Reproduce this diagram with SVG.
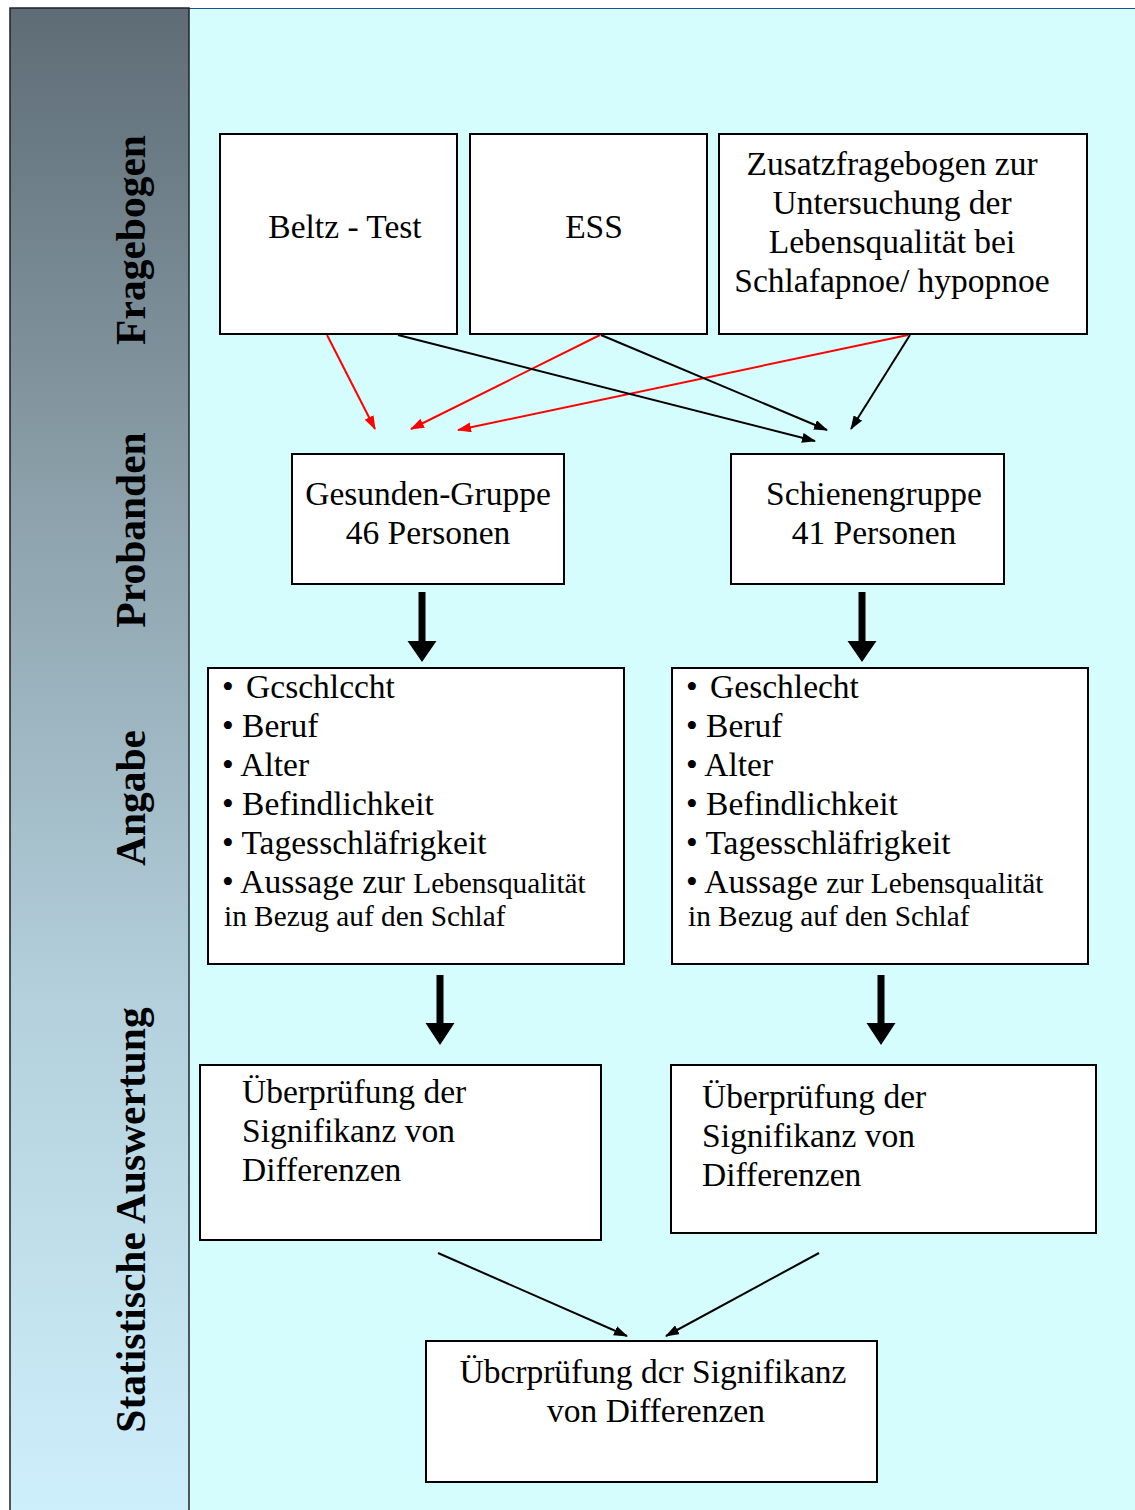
<svg xmlns="http://www.w3.org/2000/svg" width="1135" height="1510" viewBox="0 0 1135 1510">
<defs>
<linearGradient id="side" x1="0" y1="0" x2="0" y2="1">
<stop offset="0" stop-color="#5e6c75"/>
<stop offset="0.33" stop-color="#8ca1ab"/>
<stop offset="0.66" stop-color="#b3d0dc"/>
<stop offset="1" stop-color="#cdeffb"/>
</linearGradient>
<marker id="ah" markerWidth="14" markerHeight="10" refX="13" refY="5" orient="auto" markerUnits="userSpaceOnUse">
<path d="M0,0 L14,5 L0,10 Z" fill="#000"/>
</marker>
<marker id="ahr" markerWidth="14" markerHeight="10" refX="13" refY="5" orient="auto" markerUnits="userSpaceOnUse">
<path d="M0,0 L14,5 L0,10 Z" fill="#ff0000"/>
</marker>
</defs>
<style>
.box{fill:#fff;stroke:#000;stroke-width:2}
.t{font-family:"Liberation Serif","Times New Roman",serif;font-size:33.5px;fill:#000}
.s{font-size:29.3px}
.side{font-family:"Liberation Serif","Times New Roman",serif;font-size:41.5px;font-weight:bold;fill:#000;text-anchor:middle}
.c{text-anchor:middle}
.bl{stroke:#000;stroke-width:2;fill:none}
.rd{stroke:#ff0000;stroke-width:2;fill:none}
</style>
<rect x="0" y="0" width="1135" height="1510" fill="#fff"/>
<rect x="189" y="8" width="946" height="1502" fill="#d5fdfd"/>
<line x1="189" y1="8.5" x2="1135" y2="8.5" stroke="#1f4e8c" stroke-width="1"/>
<g id="sidebar">
<rect x="10" y="8" width="179" height="1504" fill="url(#side)" stroke="#222" stroke-width="1.5"/>
<text class="side" transform="translate(145,240) rotate(-90)">Fragebogen</text>
<text class="side" transform="translate(145,530) rotate(-90)">Probanden</text>
<text class="side" transform="translate(145,798) rotate(-90)">Angabe</text>
<text class="side" transform="translate(145,1220) rotate(-90)">Statistische Auswertung</text>
</g>
<g id="connectors">
<line class="rd" x1="327" y1="335" x2="375" y2="429" marker-end="url(#ahr)"/>
<line class="rd" x1="600" y1="335" x2="411" y2="429" marker-end="url(#ahr)"/>
<line class="rd" x1="908" y1="335" x2="458" y2="430" marker-end="url(#ahr)"/>
<line class="bl" x1="398" y1="335" x2="815" y2="441" marker-end="url(#ah)"/>
<line class="bl" x1="601" y1="335" x2="827" y2="430" marker-end="url(#ah)"/>
<line class="bl" x1="910" y1="335" x2="851" y2="429" marker-end="url(#ah)"/>
<path d="M418.5,592 h7 v49 h11 l-14.5,21 l-14.5,-21 h11 Z" fill="#000"/>
<path d="M858.5,592 h7 v49 h11 l-14.5,21 l-14.5,-21 h11 Z" fill="#000"/>
<path d="M436.5,975 h7 v48 h11 l-14.5,22 l-14.5,-22 h11 Z" fill="#000"/>
<path d="M877.5,975 h7 v48 h11 l-14.5,22 l-14.5,-22 h11 Z" fill="#000"/>
<line class="bl" x1="438" y1="1253" x2="627" y2="1336" marker-end="url(#ah)"/>
<line class="bl" x1="819" y1="1253" x2="666" y2="1336" marker-end="url(#ah)"/>
</g>
<g id="beltz">
<rect class="box" x="220" y="134" width="237" height="200"/>
<text class="t c" x="345" y="238">Beltz - Test</text>
</g>
<g id="ess">
<rect class="box" x="470" y="134" width="237" height="200"/>
<text class="t c" x="594" y="238">ESS</text>
</g>
<g id="zusatz">
<rect class="box" x="719" y="134" width="368" height="200"/>
<text class="t c" x="892" y="175">Zusatzfragebogen zur</text>
<text class="t c" x="892" y="214">Untersuchung der</text>
<text class="t c" x="892" y="253">Lebensqualität bei</text>
<text class="t c" x="892" y="292">Schlafapnoe/ hypopnoe</text>
</g>
<g id="gesunden">
<rect class="box" x="292" y="454" width="272" height="130"/>
<text class="t c" x="428" y="505">Gesunden-Gruppe</text>
<text class="t c" x="428" y="544">46 Personen</text>
</g>
<g id="schienen">
<rect class="box" x="731" y="454" width="273" height="130"/>
<text class="t c" x="874" y="505">Schienengruppe</text>
<text class="t c" x="874" y="544">41 Personen</text>
</g>
<g id="angabe-links">
<rect class="box" x="208" y="668" width="416" height="296"/>
<text class="t" x="222" y="698">• <tspan dx="4">Gcschlccht</tspan></text>
<text class="t" x="222" y="737">• Beruf</text>
<text class="t" x="222" y="776">• Alter</text>
<text class="t" x="222" y="815">• Befindlichkeit</text>
<text class="t" x="222" y="854">• Tagesschläfrigkeit</text>
<text class="t" x="222" y="893">• Aussage zur <tspan class="s">Lebensqualität</tspan></text>
<text class="t s" x="224" y="926">in Bezug auf den Schlaf</text>
</g>
<g id="angabe-rechts">
<rect class="box" x="672" y="668" width="416" height="296"/>
<text class="t" x="686" y="698">• <tspan dx="4">Geschlecht</tspan></text>
<text class="t" x="686" y="737">• Beruf</text>
<text class="t" x="686" y="776">• Alter</text>
<text class="t" x="686" y="815">• Befindlichkeit</text>
<text class="t" x="686" y="854">• Tagesschläfrigkeit</text>
<text class="t" x="686" y="893">• Aussage <tspan class="s">zur Lebensqualität</tspan></text>
<text class="t s" x="688" y="926">in Bezug auf den Schlaf</text>
</g>
<g id="pruefung-links">
<rect class="box" x="200" y="1065" width="401" height="175"/>
<text class="t" x="242" y="1103">Überprüfung der</text>
<text class="t" x="242" y="1142">Signifikanz von</text>
<text class="t" x="242" y="1181">Differenzen</text>
</g>
<g id="pruefung-rechts">
<rect class="box" x="671" y="1065" width="425" height="168"/>
<text class="t" x="702" y="1108">Überprüfung der</text>
<text class="t" x="702" y="1147">Signifikanz von</text>
<text class="t" x="702" y="1186">Differenzen</text>
</g>
<g id="pruefung-gesamt">
<rect class="box" x="426" y="1341" width="451" height="141"/>
<text class="t c" x="653" y="1383">Übcrprüfung dcr Signifikanz</text>
<text class="t c" x="656" y="1422">von Differenzen</text>
</g>
</svg>
